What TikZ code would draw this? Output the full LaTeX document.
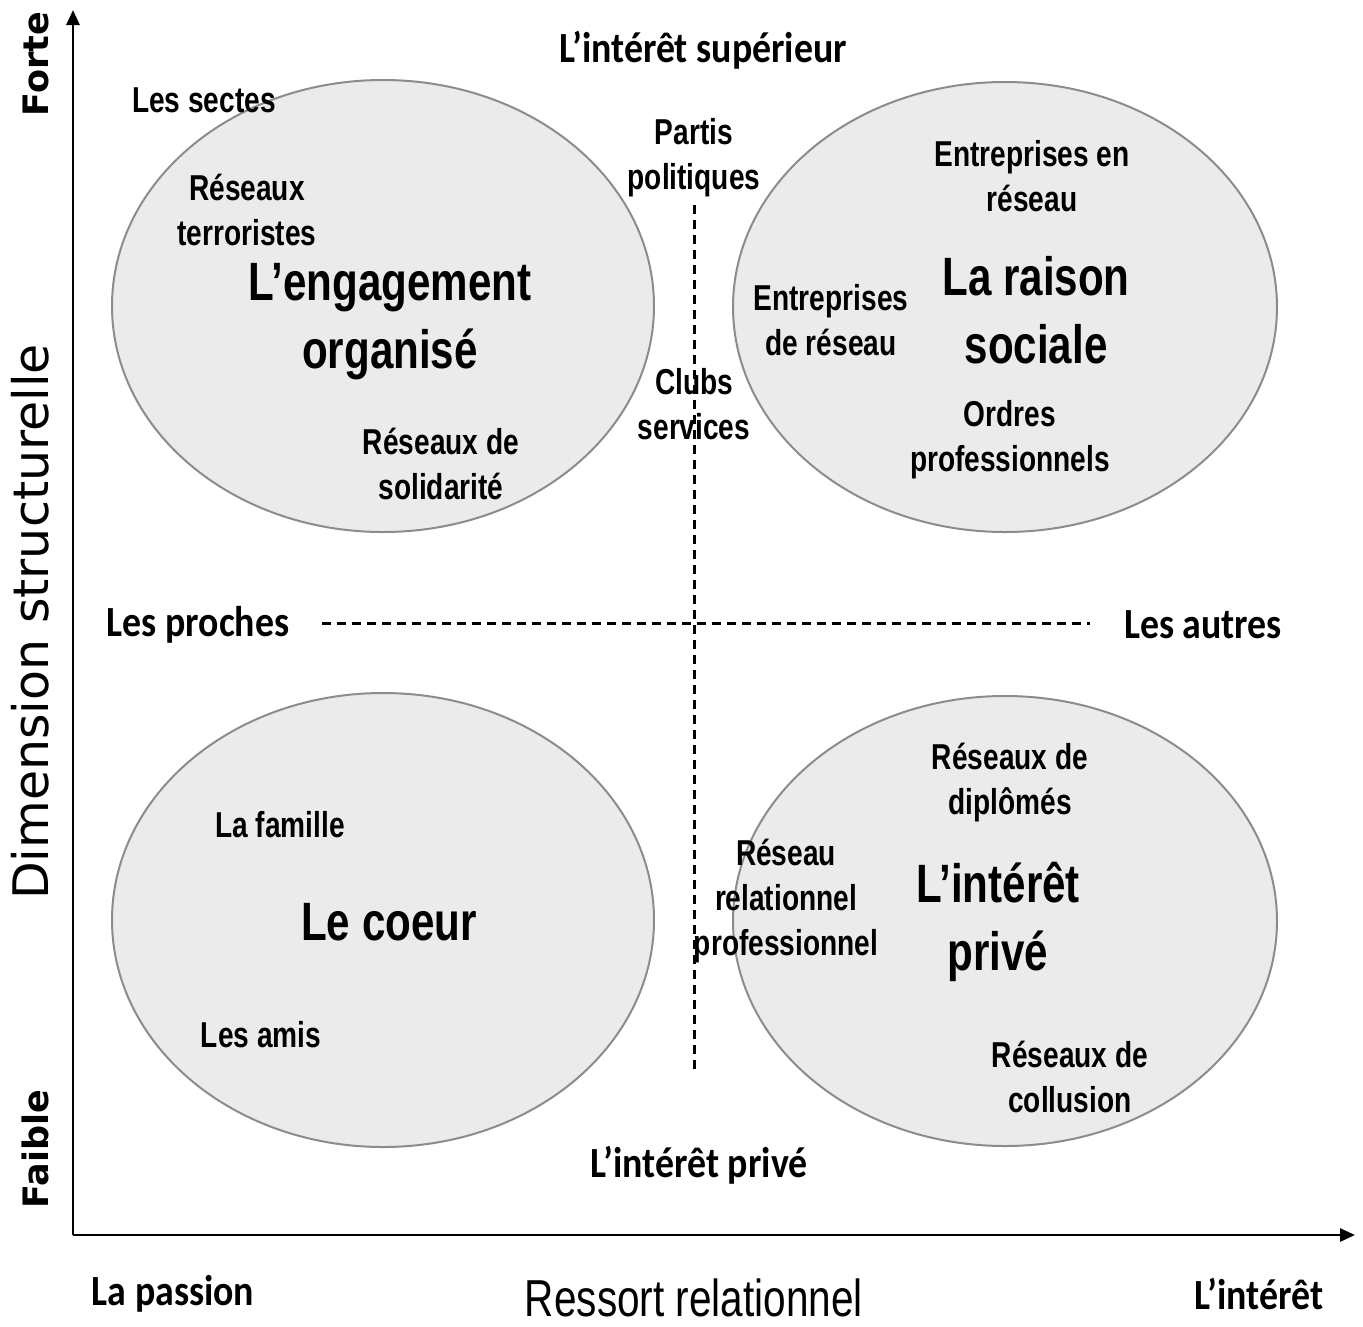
\documentclass[tikz,border=0pt]{standalone}
\usepackage{fontspec}
\usetikzlibrary{arrows.meta}
\newfontfamily\cndfont[FakeStretch=0.78]{Liberation Sans}
\newfontfamily\calfont[FakeStretch=0.88]{Carlito}
\newfontfamily\dvfont{DejaVu Sans}
\definecolor{blobfill}{HTML}{EBEBEB}
\definecolor{blobline}{HTML}{8C8C8C}
\tikzset{
  blob/.style={draw=blobline, line width=2pt, fill=blobfill},
  item/.style={font=\cndfont\bfseries\fontsize{36}{45}\selectfont, align=center, inner sep=0pt},
  title/.style={font=\cndfont\bfseries\fontsize{54}{68}\selectfont, align=center, inner sep=0pt},
  pole/.style={font=\calfont\bfseries\fontsize{43}{50}\selectfont, align=center, inner sep=0pt},
  axisname/.style={font=\dvfont\fontsize{49}{52}\selectfont, inner sep=0pt, rotate=90},
  axisend/.style={font=\dvfont\bfseries\fontsize{35}{40}\selectfont, inner sep=0pt, rotate=90},
  axisline/.style={line width=2.8pt, -{Triangle[length=15pt,width=13pt]}},
  divider/.style={line width=3pt, dash pattern=on 9pt off 6pt}
}
\begin{document}
\begin{tikzpicture}[x=1pt,y=-1pt]
\useasboundingbox (0,0) rectangle (1363,1326);

% the four quadrant ellipses
\draw[blob] (383,306) ellipse [x radius=271, y radius=226];
\draw[blob] (1005,307) ellipse [x radius=272, y radius=225];
\draw[blob] (383,920) ellipse [x radius=271, y radius=227];
\draw[blob] (1005,921) ellipse [x radius=272, y radius=225];

% axes
\coordinate (origin) at (73,1235);
\coordinate (ytip) at (73,10);
\coordinate (xtip) at (1355,1235);
\draw[axisline] (origin) -- (ytip);
\draw[axisline] (origin) -- (xtip);

% axis labels
\node[axisend] (forte) at (36,64) {Forte};
\node[axisend] (faible) at (35,1149) {Faible};
\node[axisname] (dim) at (30,622) {Dimension structurelle};
\node[pole] (passion) at (173,1294) {La passion};
\node[pole] (interet) at (1259,1294) {L’intérêt};
\node[font=\cndfont\fontsize{52}{56}\selectfont, inner sep=0pt] (ressort) at (694,1298) {Ressort relationnel};

% poles of the quadrants
\node[pole] (sup) at (703,50) {L’intérêt supérieur};
\node[pole] (priv) at (699,1165) {L’intérêt privé};
\node[pole] (proches) at (198,625) {Les proches};
\node[pole] (autres) at (1203,625) {Les autres};

% top-left quadrant
\node[item] (sectes) at (204,100) {Les sectes};
\node[item] (terro) at (247,210) {Réseaux\\terroristes};
\node[title] (engag) at (390,322) {L’engagement\\organisé};
\node[item] (solid) at (441,464) {Réseaux de\\solidarité};

% middle column
\node[item] (partis) at (694,158) {Partis\\politiques};
\node[item] (clubs) at (694,404) {Clubs\\services};

% top-right quadrant
\node[item] (entr1) at (1032,176) {Entreprises en\\réseau};
\node[title] (raison) at (1036,310) {La raison\\sociale};
\node[item] (entr2) at (831,320) {Entreprises\\de réseau};
\node[item] (ordres) at (1010,440) {Ordres\\professionnels};

% bottom-left quadrant
\node[item] (famille) at (280,825) {La famille};
\node[title] (coeur) at (389,922) {Le coeur};
\node[item] (amis) at (261,1035) {Les amis};

% bottom-right quadrant
\node[item] (diplomes) at (1010,783) {Réseaux de\\diplômés};
\node[item] (relpro) at (786,901) {Réseau\\relationnel\\professionnel};
\node[title] (interetp) at (998,922) {L’intérêt\\privé};
\node[item] (collusion) at (1070,1077) {Réseaux de\\collusion};

% dashed dividers
\coordinate (hl) at (322,623);
\coordinate (hr) at (1090,623);
\coordinate (vt) at (694,205);
\coordinate (vb) at (694,1070);
\draw[divider] (hl) -- (hr);
\draw[divider] (vt) -- (vb);
\end{tikzpicture}
\end{document}
